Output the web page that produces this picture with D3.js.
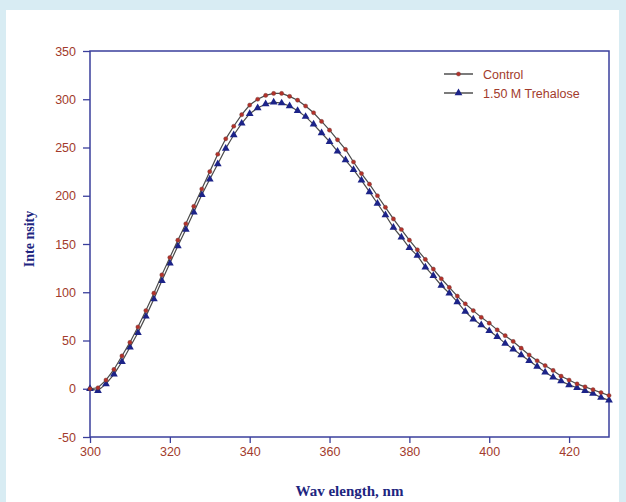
<!DOCTYPE html>
<html>
<head>
<meta charset="utf-8">
<script src="https://cdn.jsdelivr.net/npm/d3@7"></script>
<style>
  html, body { margin: 0; padding: 0; background: #d8ecf3; }
  svg { display: block; }
</style>
</head>
<body>
<script>
// Wavelength grid, nm
const wavelengths = d3.range(300, 431, 2);

// Control emission intensity
const controlValues = [0, 1, 9, 20, 34, 48, 64, 81, 99, 118,
    136, 154, 171, 189, 207, 225, 243, 259, 272, 284,
    294, 300, 304, 306, 306, 303, 299, 293, 286, 277,
    268, 258, 248, 235, 223, 212, 200, 188, 176, 165,
    154, 144, 134, 124, 114, 105, 96, 88, 81, 74,
    68, 61, 55, 49, 42, 35, 29, 24, 19, 13,
    9, 5, 2, -1, -4, -7];

// 1.50 M trehalose emission intensity
const trehaloseValues = [0, -2, 5, 15, 28, 43, 58, 75, 93, 112,
    130, 148, 165, 183, 201, 217, 233, 249, 263, 275,
    285, 291, 295, 297, 296, 293, 288, 282, 274, 265,
    256, 246, 237, 227, 216, 204, 192, 180, 167, 157,
    146, 138, 126, 117, 107, 99, 90, 80, 72, 66,
    60, 54, 47, 41, 35, 29, 23, 17, 12, 8,
    4, 1, -2, -5, -9, -12];

const seriesNames = ["Control", "1.50 M Trehalose"];
const xTicks = [300, 320, 340, 360, 380, 400, 420];
const yTicks = [-50, 0, 50, 100, 150, 200, 250, 300, 350];

const width = 626, height = 502;
const margin = { left: 90, top: 51, right: 17, bottom: 65 };
const axisColor = "#3a3f9c";
const labelColor = "#a23b2c";
const titleColor = "#1d2580";

const svg = d3.select("body").append("svg")
    .attr("width", width)
    .attr("height", height);

// white panel
svg.append("rect")
    .attr("x", 6).attr("y", 10)
    .attr("width", 613).attr("height", 492)
    .attr("fill", "#fff");

const x = d3.scaleLinear()
    .domain([300, 430])
    .range([margin.left, width - margin.right]);
const y = d3.scaleLinear()
    .domain([-50, 350])
    .range([height - margin.bottom, margin.top]);

// Axes
const xAxis = svg.append("g")
    .attr("transform", `translate(0,${y(-50)})`)
    .call(d3.axisBottom(x).tickValues(xTicks).tickSize(6).tickPadding(4)
        .tickFormat(d => String(d)));
const yAxis = svg.append("g")
    .attr("transform", `translate(${x(300)},0)`)
    .call(d3.axisLeft(y).tickValues(yTicks).tickSize(7).tickPadding(7)
        .tickFormat(d => String(d)));

[xAxis, yAxis].forEach(g => {
    g.select(".domain").remove();
    g.selectAll(".tick line").attr("stroke", axisColor).attr("stroke-width", 1.3);
    g.selectAll(".tick text")
        .attr("fill", labelColor)
        .style("font-family", "Arial, 'Liberation Sans', sans-serif")
        .style("font-size", "12.5px");
});

// frame
svg.append("rect")
    .attr("x", x(300)).attr("y", y(350))
    .attr("width", x(430) - x(300))
    .attr("height", y(-50) - y(350))
    .attr("fill", "none")
    .attr("stroke", axisColor)
    .attr("stroke-width", 1.5);

// Lines + markers
const line = d3.line()
    .x((d, i) => x(wavelengths[i]))
    .y(d => y(d));

const drawSeries = (values, marker) => {
    svg.append("path")
        .datum(values)
        .attr("d", line)
        .attr("fill", "none")
        .attr("stroke", "#4a4a4a")
        .attr("stroke-width", 1.2);

    const pts = svg.append("g");
    values.forEach((v, i) => marker(pts, x(wavelengths[i]), y(v)));
};

const redDot = (g, cx, cy) => {
    g.append("circle")
        .attr("cx", cx).attr("cy", cy).attr("r", 2.1)
        .attr("fill", "#b3322a")
        .attr("stroke", "#6b3a3a")
        .attr("stroke-width", 0.4);
};
const blueTri = (g, cx, cy) => {
    g.append("path")
        .attr("d", d3.symbol().type(d3.symbolTriangle).size(26)())
        .attr("transform", `translate(${cx},${cy})`)
        .attr("fill", "#1c2388");
};

drawSeries(trehaloseValues, blueTri);
drawSeries(controlValues, redDot);

// Legend
const legend = svg.append("g");
const legendRows = [
    { name: seriesNames[0], y: 74, marker: redDot },
    { name: seriesNames[1], y: 93, marker: blueTri }
];
legendRows.forEach(r => {
    legend.append("line")
        .attr("x1", 444).attr("x2", 473)
        .attr("y1", r.y).attr("y2", r.y)
        .attr("stroke", "#222")
        .attr("stroke-width", 1.2);
    r.marker(legend, 458.5, r.y);
    legend.append("text")
        .attr("x", 483).attr("y", r.y + 4.5)
        .attr("fill", labelColor)
        .style("font-family", "Arial, 'Liberation Sans', sans-serif")
        .style("font-size", "12.5px")
        .text(r.name);
});

// Axis titles
svg.append("text")
    .attr("x", (x(300) + x(430)) / 2)
    .attr("y", 496)
    .attr("text-anchor", "middle")
    .attr("fill", titleColor)
    .style("font-family", "'Liberation Serif', 'Times New Roman', serif")
    .style("font-weight", "bold")
    .style("font-size", "15px")
    .text("Wav elength, nm");

svg.append("text")
    .attr("transform", `translate(34,${(y(350) + y(-50)) / 2 - 5}) rotate(-90)`)
    .attr("text-anchor", "middle")
    .attr("fill", titleColor)
    .style("font-family", "'Liberation Serif', 'Times New Roman', serif")
    .style("font-weight", "bold")
    .style("font-size", "14px")
    .text("Inte nsity");
</script>
</body>
</html>
